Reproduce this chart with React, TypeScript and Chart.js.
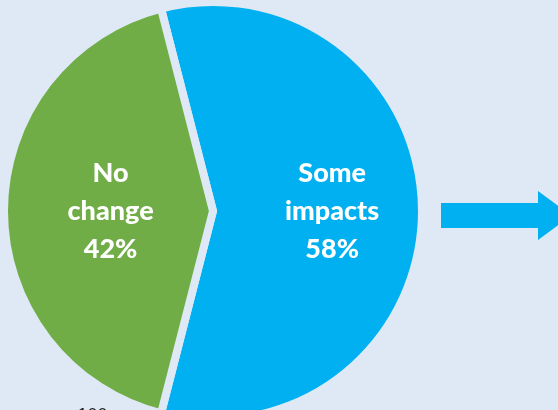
import React, { useEffect, useRef } from "react";
import { Chart, registerables } from "chart.js";

Chart.register(...registerables);

const categories = ["Some impacts", "No change"];
const shares = [58, 42];
const sliceColors = ["#00b0f0", "#70ad47"];
const labelLines = [["Some", "impacts", "58%"], ["No", "change", "42%"]];
const footnote = "n=100";

const BG = "#dee9f5";
const OFFSET = 10; // canvas y = page y + OFFSET

const overlayPlugin = {
  id: "overlay",
  afterDatasetsDraw(chart: any) {
    const ctx = chart.ctx;
    const meta = chart.getDatasetMeta(0);
    ctx.save();
    ctx.fillStyle = "#ffffff";
    ctx.textAlign = "center";
    ctx.textBaseline = "middle";
    ctx.font = "900 27px Lato, 'Open Sans', sans-serif";
    const fracs = [0.57, 0.49];
    meta.data.forEach((arc: any, i: number) => {
      const p = arc.getProps(["x", "y", "startAngle", "endAngle", "outerRadius"], true);
      const mid = (p.startAngle + p.endAngle) / 2;
      const r = p.outerRadius * fracs[i];
      const cx = p.x + Math.cos(mid) * r;
      const cy = p.y + Math.sin(mid) * r;
      const lines = labelLines[i];
      const lh = 38;
      lines.forEach((t: string, j: number) => {
        ctx.fillText(t, cx, cy + (j - (lines.length - 1) / 2) * lh);
      });
    });
    // arrow
    ctx.fillStyle = "#00b0f0";
    ctx.beginPath();
    const y0 = OFFSET;
    ctx.moveTo(441, y0 + 203);
    ctx.lineTo(538, y0 + 203);
    ctx.lineTo(538, y0 + 191);
    ctx.lineTo(571, y0 + 215.5);
    ctx.lineTo(538, y0 + 240);
    ctx.lineTo(538, y0 + 228);
    ctx.lineTo(441, y0 + 228);
    ctx.closePath();
    ctx.fill();
    // footnote
    ctx.fillStyle = "#222222";
    ctx.textAlign = "left";
    ctx.textBaseline = "alphabetic";
    ctx.font = "18px 'Liberation Sans', sans-serif";
    ctx.fillText(footnote, 57, y0 + 421);
    ctx.restore();
  },
};

export default function App() {
  const ref = useRef<HTMLCanvasElement>(null);
  useEffect(() => {
    document.body.style.margin = "0";
    const chart = new Chart(ref.current as HTMLCanvasElement, {
      type: "pie",
      data: {
        labels: categories,
        datasets: [
          {
            data: shares,
            backgroundColor: sliceColors,
            borderColor: BG,
            borderWidth: 8,
            hoverBorderWidth: 8,
            borderJoinStyle: "miter",
          } as any,
        ],
      },
      options: {
        responsive: false,
        animation: false,
        rotation: -14.4,
        layout: { padding: { left: 0, right: 132, top: 8, bottom: 6 } },
        plugins: { legend: { display: false }, tooltip: { enabled: false } },
        events: [],
      },
      plugins: [overlayPlugin],
    });
    return () => chart.destroy();
  }, []);
  return (
    <div style={{ position: "relative", width: 558, height: 410, overflow: "hidden", background: BG }}>
      <canvas ref={ref} width={558} height={440} style={{ position: "absolute", left: 0, top: -OFFSET }} />
    </div>
  );
}
